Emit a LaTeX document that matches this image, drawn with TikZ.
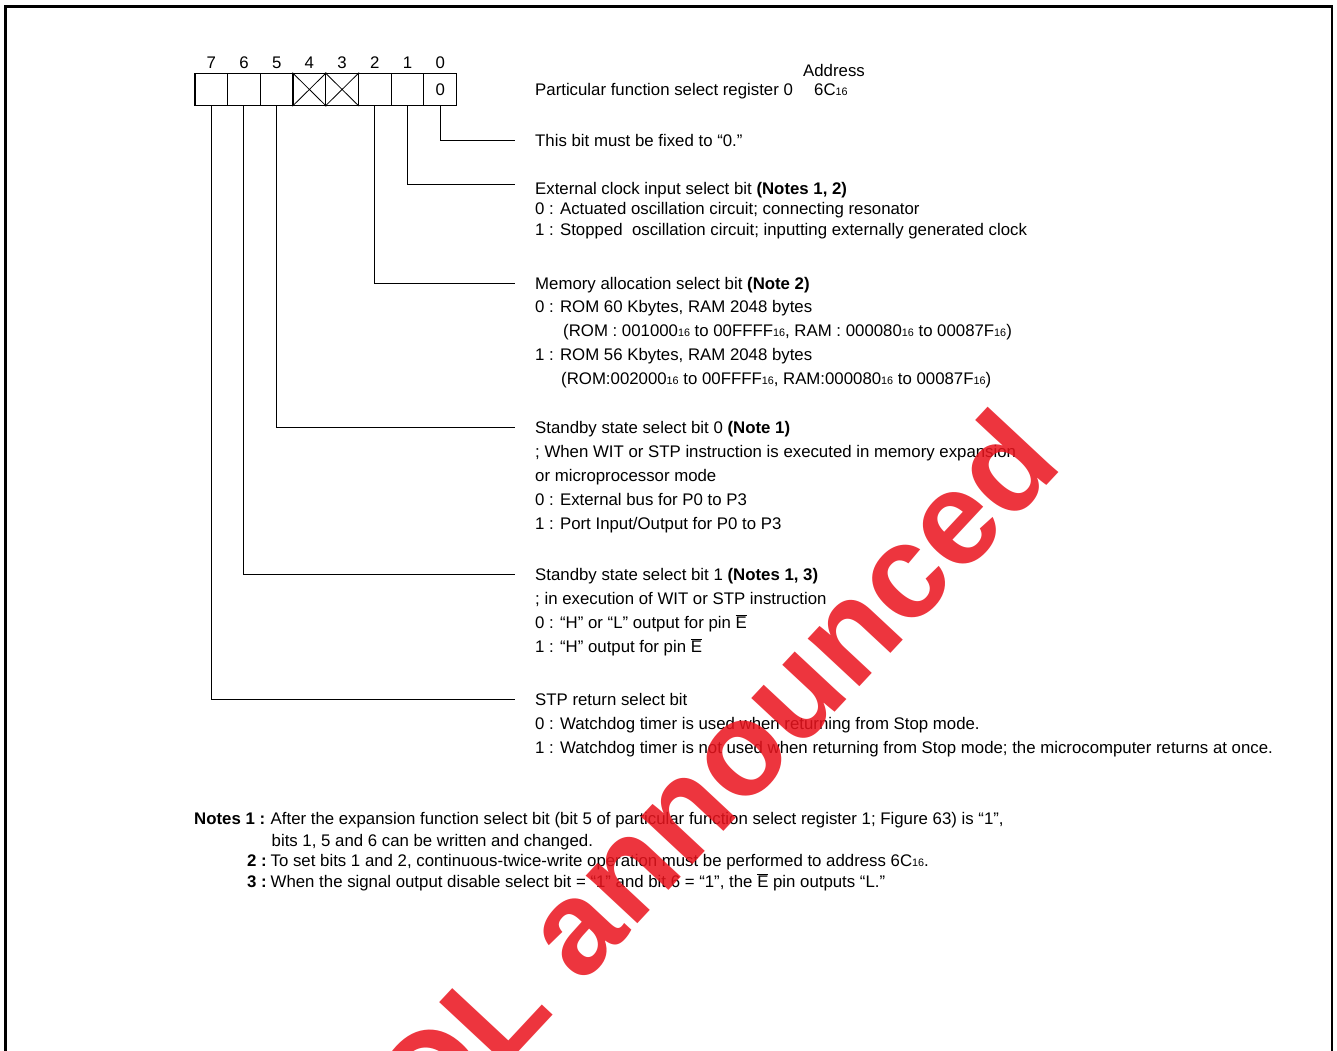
\documentclass[tikz,border=0pt]{standalone}
\usepackage{fontspec}
\setmainfont{Liberation Sans}
\newcommand\hexs{\raisebox{-0.6pt}{\fontsize{10.8}{11}\selectfont 16}}
\newcommand\Ebar{\ensuremath{\overline{\mbox{E}}}}
\definecolor{wmred}{RGB}{234,20,30}
\begin{document}
\begin{tikzpicture}[x=1pt,y=-1pt,
  lbl/.style={anchor=base west,inner sep=0pt,font=\fontsize{16.8}{20}\selectfont},
  nte/.style={anchor=base west,inner sep=0pt,font=\fontsize{16.8}{20}\selectfont},
  bitnum/.style={anchor=base,inner sep=0pt,font=\fontsize{16.8}{20}\selectfont},
  cell/.style={draw,line width=1.2pt,minimum width=32.7pt,minimum height=32.3pt,inner sep=0pt,anchor=north west,font=\fontsize{16.8}{20}\selectfont},
  lead/.style={line width=1pt},
  cross/.style={line width=0.8pt},
  frame/.style={line width=2.6pt},
  wm/.style={rotate=47,anchor=base east,inner sep=0pt,text=wmred,opacity=0.86,font=\fontsize{133}{133}\selectfont\bfseries}]
\useasboundingbox (0,0) rectangle (1337,1050);
\clip (0,0) rectangle (1337,1050);
\draw[frame] (5.5,1060) -- (5.5,6.2) -- (1332,6.2) -- (1332,1060);
% register cells
\foreach \b/\t in {7/,6/,5/,4/,3/,2/,1/,0/0}{
  \node[cell] (c\b) at ({194.3+(7-\b)*32.71},72.7) {\t};
  \path (c\b.north) ++(0,-4.7) node[bitnum] (n\b) {\b};
}
\draw[cross] (c4.north west) -- (c4.south east) (c4.south west) -- (c4.north east);
\draw[cross] (c3.north west) -- (c3.south east) (c3.south west) -- (c3.north east);
% header
\node[anchor=base,inner sep=0pt,font=\fontsize{16.8}{20}\selectfont] (addr) at (834,76) {Address};
\node[lbl] (reg) at (535,95) {Particular function select register 0};
\node[lbl] (regad) at (814,95) {6C\hexs};
% bit 0
\node[lbl] (t0) at (535,146) {This bit must be fixed to “0.”};
% bit 1
\node[lbl] (t1a) at (535,194) {External clock input select bit \textbf{(Notes 1, 2)}};
\node[lbl] (t1b) at (535,214.5) {0 : Actuated oscillation circuit; connecting resonator};
\node[lbl] (t1c) at (535,235) {1 : Stopped\ \ oscillation circuit; inputting externally generated clock};
% bit 2
\node[lbl] (t2a) at (535,289) {Memory allocation select bit \textbf{(Note 2)}};
\node[lbl] (t2b) at (535,312) {0 : ROM 60 Kbytes, RAM 2048 bytes};
\node[lbl] (t2c) at (563,336) {(ROM : 001000\hexs{} to 00FFFF\hexs, RAM : 000080\hexs{} to 00087F\hexs)};
\node[lbl] (t2d) at (535,360) {1 : ROM 56 Kbytes, RAM 2048 bytes};
\node[lbl] (t2e) at (561,384) {(ROM:002000\hexs{} to 00FFFF\hexs, RAM:000080\hexs{} to 00087F\hexs)};
% bit 5
\node[lbl] (t5a) at (535,433) {Standby state select bit 0 \textbf{(Note 1)}};
\node[lbl] (t5b) at (535,457) {; When WIT or STP instruction is executed in memory expansion};
\node[lbl] (t5c) at (535,481) {or microprocessor mode};
\node[lbl] (t5d) at (535,505) {0 : External bus for P0 to P3};
\node[lbl] (t5e) at (535,529) {1 : Port Input/Output for P0 to P3};
% bit 6
\node[lbl] (t6a) at (535,580) {Standby state select bit 1 \textbf{(Notes 1, 3)}};
\node[lbl] (t6b) at (535,604) {; in execution of WIT or STP instruction};
\node[lbl] (t6c) at (535,628) {0 : “H” or “L” output for pin \Ebar};
\node[lbl] (t6d) at (535,652) {1 : “H” output for pin \Ebar};
% bit 7
\node[lbl] (t7a) at (535,705) {STP return select bit};
\node[lbl] (t7b) at (535,729) {0 : Watchdog timer is used when returning from Stop mode.};
\node[lbl] (t7c) at (535,753) {1 : Watchdog timer is not used when returning from Stop mode; the microcomputer returns at once.};
% leaders
\coordinate (e0) at (515,140);
\coordinate (e1) at (515,184);
\coordinate (e2) at (515,283);
\coordinate (e5) at (515,427);
\coordinate (e6) at (515,574);
\coordinate (e7) at (515,699);
\foreach \b in {0,1,2,5,6,7}{ \draw[lead] (c\b.south) |- (e\b); }
% notes
\node[nte] (n1l) at (194,824) {\textbf{Notes 1 :}};
\node[nte] (n1a) at (270.5,824) {After the expansion function select bit (bit 5 of particular function select register 1; Figure 63) is “1”,};
\node[nte] (n1b) at (271.5,846) {bits 1, 5 and 6 can be written and changed.};
\node[nte] (n2l) at (247,866) {\textbf{2 :}};
\node[nte] (n2) at (270.5,866) {To set bits 1 and 2, continuous-twice-write operation must be performed to address 6C\hexs.};
\node[nte] (n3l) at (247,887) {\textbf{3 :}};
\node[nte] (n3) at (270.5,887) {When the signal output disable select bit = “1” and bit 6 = “1”, the \Ebar{} pin outputs “L.”};
% watermark
\node[wm] (wmk) at (1065,466) {EOL announced};
\end{tikzpicture}
\end{document}
